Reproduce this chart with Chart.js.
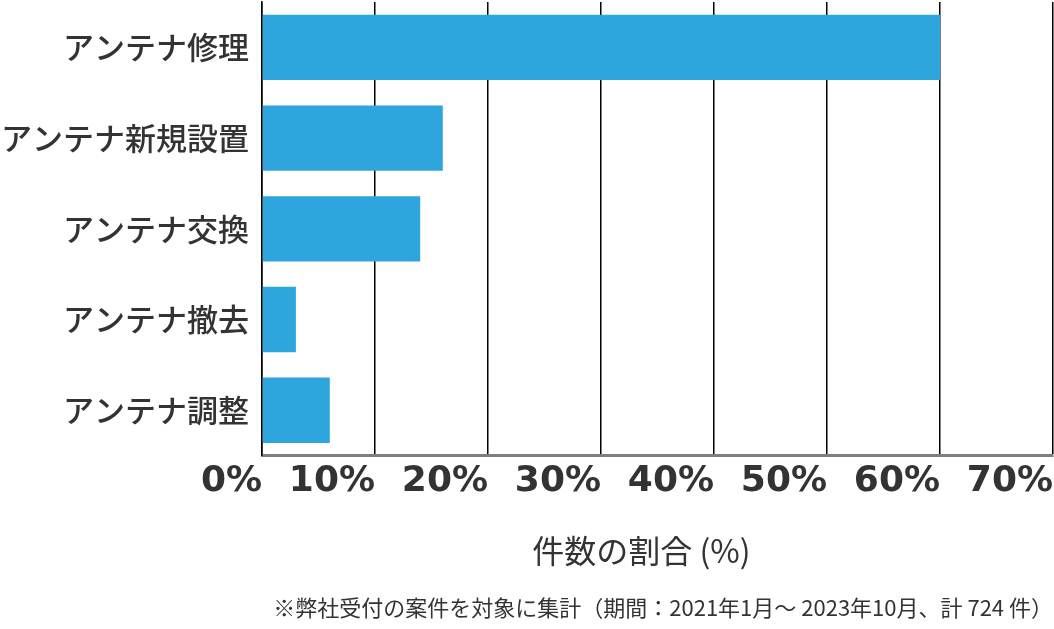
<!DOCTYPE html>
<html>
<head>
  <meta charset="UTF-8">
  <title>アンテナ工事 件数の割合</title>
  <script src="https://cdn.jsdelivr.net/npm/chart.js"></script>
  <style>
    html, body {
      margin: 0;
      padding: 0;
      background: #fff;
    }
    #wrap {
      width: 1054px;
      height: 629px;
    }
  </style>
</head>
<body>
  <div id="wrap"><canvas id="chart"></canvas></div>

  <script>
    // data
    const categories = ["アンテナ修理", "アンテナ新規設置", "アンテナ交換", "アンテナ撤去", "アンテナ調整"];
    const shares = [60.0, 16.0, 14.0, 3.0, 6.0];
    // trailing ideographic space nudges the centred title a little left, as in the original
    const axisTitle = "件数の割合 (%)\u3000";
    const footnote = "※弊社受付の案件を対象に集計（期間：2021年1月～ 2023年10月、計 724 件）";

    const jp = "'Noto Sans CJK JP', 'Noto Sans', sans-serif";

    new Chart(document.getElementById("chart"), {
      type: "bar",
      data: {
        labels: categories,
        datasets: [{
          data: shares,
          backgroundColor: "#2ea6dd",
          borderWidth: 0,
          categoryPercentage: 1,
          barPercentage: 0.72
        }]
      },
      options: {
        indexAxis: "y",
        responsive: true,
        maintainAspectRatio: false,
        animation: false,
        layout: { padding: { top: 2, right: 1, left: 0, bottom: 0 } },
        plugins: {
          legend: { display: false },
          tooltip: { enabled: false },
          subtitle: {
            display: true,
            text: footnote,
            position: "bottom",
            align: "end",
            color: "#333",
            font: { family: jp, size: 22 },
            padding: { top: 8, bottom: 8 }
          }
        },
        scales: {
          x: {
            min: 0,
            max: 70,
            afterFit: s => {
              s.height = 131;
              s.paddingLeft = 0;
              s.paddingRight = 0;
            },
            ticks: {
              stepSize: 10,
              align: "end",
              padding: 4,
              color: "#333",
              font: { family: "'DejaVu Sans', sans-serif", size: 36, weight: "bold" },
              callback: v => v + "%"
            },
            grid: {
              color: "#000",
              lineWidth: 1.5,
              drawTicks: false
            },
            border: { color: "#7f7f7f", width: 3 },
            title: {
              display: true,
              text: axisTitle,
              color: "#333",
              font: { family: jp, size: 32 },
              padding: { top: 0, bottom: 17 }
            }
          },
          y: {
            afterFit: s => {
              s.width = 262;
              s.paddingTop = 0;
              s.paddingBottom = 0;
            },
            ticks: {
              padding: 13,
              color: "#333",
              font: { family: jp, size: 31, weight: 500 }
            },
            grid: { display: false, drawTicks: false },
            border: { color: "#000", width: 1.5 }
          }
        }
      }
    });
  </script>
</body>
</html>
